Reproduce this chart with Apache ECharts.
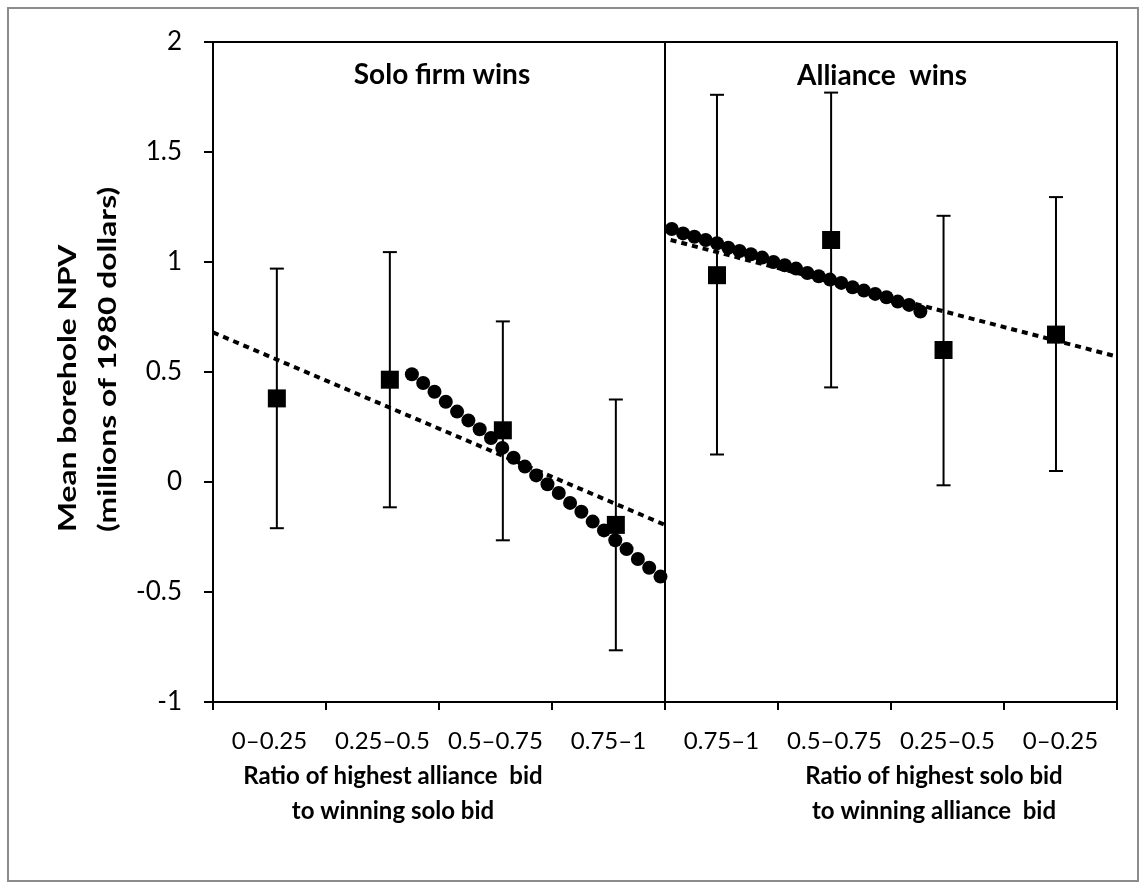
<!DOCTYPE html>
<html>
<head>
<meta charset="utf-8">
<script src="https://cdn.jsdelivr.net/npm/echarts@6/dist/echarts.min.js"></script>
<style>
  html, body { margin: 0; padding: 0; background: #fff; }
  #chart { width: 1146px; height: 889px; }
</style>
</head>
<body>
<div id="chart"></div>
<script>
// category labels under the x axis (left half: solo wins, right half: alliance wins)
const categories = ['0\u20130.25', '0.25\u20130.5', '0.5\u20130.75', '0.75\u20131',
                    '0.75\u20131', '0.5\u20130.75', '0.25\u20130.5', '0\u20130.25'];

// group means with error bars
const meanX    = [0.565, 1.565, 2.565, 3.565, 4.46, 5.47, 6.465, 7.46];
const meanY    = [0.38, 0.465, 0.235, -0.195, 0.94, 1.10, 0.60, 0.67];
const barLow   = [-0.21, -0.115, -0.265, -0.765, 0.125, 0.43, -0.015, 0.05];
const barHigh  = [0.97, 1.045, 0.73, 0.375, 1.76, 1.77, 1.21, 1.295];

// fitted curve points (circles)
const soloX = [1.76, 1.86, 1.96, 2.06, 2.16, 2.26, 2.36, 2.46, 2.56, 2.66, 2.76, 2.86,
               2.96, 3.06, 3.16, 3.26, 3.36, 3.46, 3.56, 3.66, 3.76, 3.86, 3.96];
const soloY = [0.49, 0.45, 0.41, 0.365, 0.32, 0.28, 0.24, 0.20, 0.155, 0.11, 0.07, 0.03,
               -0.01, -0.05, -0.095, -0.135, -0.18, -0.22, -0.265, -0.305, -0.35, -0.39, -0.43];
const allyX = [4.06, 4.16, 4.26, 4.36, 4.46, 4.56, 4.66, 4.76, 4.86, 4.96, 5.06, 5.16,
               5.26, 5.36, 5.46, 5.56, 5.66, 5.76, 5.86, 5.96, 6.06, 6.16, 6.26];
const allyY = [1.15, 1.13, 1.115, 1.10, 1.085, 1.065, 1.05, 1.035, 1.02, 1.0, 0.985, 0.97,
               0.95, 0.935, 0.92, 0.905, 0.885, 0.87, 0.855, 0.84, 0.82, 0.805, 0.775];

// linear trend lines (dotted)
const soloTrend = [[0, 0.68], [4, -0.195]];
const allyTrend = [[4.05, 1.10], [8, 0.57]];

const yTicks = { min: -1, max: 2, interval: 0.5 };
const divider = 4;

const chart = echarts.init(document.getElementById('chart'));
const font = 'Lato, "Noto Sans", sans-serif';

const zip = (xs, ys) => xs.map((x, i) => [x, ys[i]]);
const errData = meanX.map((x, i) => [x, barLow[i], barHigh[i]]);

const option = {
  backgroundColor: '#fff',
  animation: false,
  textStyle: { fontFamily: font, color: '#000' },
  grid: {
    left: 213, top: 42, width: 904, height: 660,
    show: true, borderColor: '#000', borderWidth: 2, backgroundColor: 'transparent'
  },
  xAxis: [
    {
      type: 'value', min: 0, max: 8, interval: 1,
      axisLine: { show: true, onZero: false, lineStyle: { color: '#000', width: 2 } },
      axisTick: { show: true, length: 8, lineStyle: { color: '#000', width: 2 } },
      axisLabel: { show: false },
      splitLine: { show: false }
    },
    {
      type: 'category', data: categories, position: 'bottom', boundaryGap: true,
      axisLine: { show: false, onZero: false }, axisTick: { show: false }, splitLine: { show: false },
      axisLabel: { show: true, interval: 0, fontSize: 24, color: '#000', fontFamily: font, margin: 27 }
    }
  ],
  yAxis: {
    type: 'value', min: yTicks.min, max: yTicks.max, interval: yTicks.interval,
    axisLine: { show: true, onZero: false, lineStyle: { color: '#000', width: 2 } },
    axisTick: { show: true, length: 9, lineStyle: { color: '#000', width: 2 } },
    axisLabel: { fontSize: 26, color: '#000', fontFamily: font, margin: 31 },
    splitLine: { show: false }
  },
  graphic: [
    { type: 'rect', shape: { x: 8, y: 8, width: 1130, height: 873 },
      style: { fill: 'none', stroke: '#8c8c8c', lineWidth: 2 }, silent: true },
    { type: 'text', x: 442, y: 75, style: { text: 'Solo firm wins', font: 'bold 28px ' + font,
      fill: '#000', align: 'center', verticalAlign: 'middle' } },
    { type: 'text', x: 882, y: 76, style: { text: 'Alliance  wins', font: 'bold 28px ' + font,
      fill: '#000', align: 'center', verticalAlign: 'middle' } },
    { type: 'text', x: 393, y: 776, style: { text: 'Ratio of highest alliance  bid', font: 'bold 24px ' + font,
      fill: '#000', align: 'center', verticalAlign: 'middle' } },
    { type: 'text', x: 393, y: 811, style: { text: 'to winning solo bid', font: 'bold 24px ' + font,
      fill: '#000', align: 'center', verticalAlign: 'middle' } },
    { type: 'text', x: 934, y: 776, style: { text: 'Ratio of highest solo bid', font: 'bold 24px ' + font,
      fill: '#000', align: 'center', verticalAlign: 'middle' } },
    { type: 'text', x: 934, y: 811, style: { text: 'to winning alliance  bid', font: 'bold 24px ' + font,
      fill: '#000', align: 'center', verticalAlign: 'middle' } },
    { type: 'text', x: 68, y: 532, rotation: Math.PI / 2, scaleX: 1.27, style: { text: 'Mean borehole NPV',
      font: 'bold 25px ' + font, fill: '#000', align: 'left', verticalAlign: 'middle' } },
    { type: 'text', x: 108, y: 532, rotation: Math.PI / 2, scaleX: 1.27, style: { text: '(millions of 1980 dollars)',
      font: 'bold 25px ' + font, fill: '#000', align: 'left', verticalAlign: 'middle' } }
  ],
  series: [
    {
      name: 'divider', type: 'line', data: [], xAxisIndex: 0,
      markLine: {
        silent: true, symbol: 'none', label: { show: false },
        lineStyle: { color: '#000', width: 2, type: 'solid' },
        data: [{ xAxis: divider }]
      }
    },
    {
      name: 'solo trend', type: 'line', data: soloTrend, xAxisIndex: 0, symbol: 'none',
      lineStyle: { color: '#000', width: 4, type: [6, 5] }, z: 2
    },
    {
      name: 'alliance trend', type: 'line', data: allyTrend, xAxisIndex: 0, symbol: 'none',
      lineStyle: { color: '#000', width: 4, type: [6, 5] }, z: 2
    },
    {
      name: 'error bars', type: 'custom', xAxisIndex: 0, data: errData, z: 3,
      renderItem: function (params, api) {
        const x = api.value(0);
        const lo = api.coord([x, api.value(1)]);
        const hi = api.coord([x, api.value(2)]);
        const w = 7;
        const style = { stroke: '#000', lineWidth: 2 };
        return {
          type: 'group',
          children: [
            { type: 'line', shape: { x1: lo[0], y1: lo[1], x2: hi[0], y2: hi[1] }, style: style },
            { type: 'line', shape: { x1: lo[0] - w, y1: lo[1], x2: lo[0] + w, y2: lo[1] }, style: style },
            { type: 'line', shape: { x1: hi[0] - w, y1: hi[1], x2: hi[0] + w, y2: hi[1] }, style: style }
          ]
        };
      }
    },
    {
      name: 'solo fitted', type: 'scatter', data: zip(soloX, soloY), xAxisIndex: 0,
      symbol: 'circle', symbolSize: 14, itemStyle: { color: '#000', opacity: 1 }, z: 4
    },
    {
      name: 'alliance fitted', type: 'scatter', data: zip(allyX, allyY), xAxisIndex: 0,
      symbol: 'circle', symbolSize: 14, itemStyle: { color: '#000', opacity: 1 }, z: 4
    },
    {
      name: 'means', type: 'scatter', data: zip(meanX, meanY), xAxisIndex: 0,
      symbol: 'rect', symbolSize: 18, itemStyle: { color: '#000', opacity: 1 }, z: 5
    }
  ]
};

chart.setOption(option);
</script>
</body>
</html>
